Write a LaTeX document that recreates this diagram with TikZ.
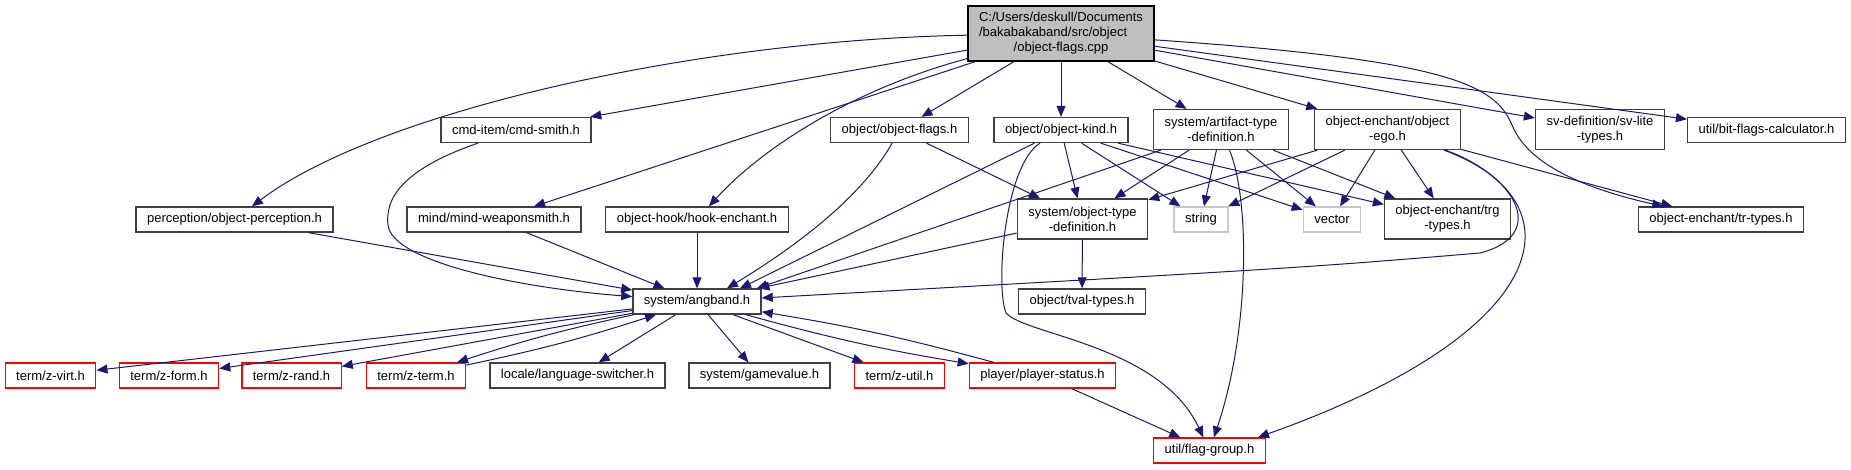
\documentclass[tikz,border=0pt]{standalone}
\usepackage{fontspec}
\setmainfont{Liberation Sans}
\usepackage{tikz}
\usetikzlibrary{arrows.meta, calc}
\definecolor{edgeblue}{RGB}{25, 25, 112}
\definecolor{boxgrey}{HTML}{404040}
\definecolor{mainfill}{HTML}{BFBFBF}
\definecolor{sysgrey}{HTML}{C8C8C8}

\begin{document}
\begin{tikzpicture}[x=1pt, y=-1pt,
	hdr/.style={draw=boxgrey, line width=1.3pt, fill=white, inner xsep=11pt, inner ysep=2pt,
		minimum height=25pt, font=\fontsize{13}{15}\selectfont},
	twoline/.style={align=center, minimum height=40pt},
	cut/.style={hdr, draw=red},
	sys/.style={hdr, draw=sysgrey},
	dep/.style={draw=edgeblue, line width=1pt, -{Triangle[length=11pt, width=9pt]}}]
	\useasboundingbox (0,0) rectangle (1851,469);
	\node[hdr, fill=mainfill, draw=black, minimum height=55pt] (main) at (1061,33.5)
		{\begin{tabular}{@{}l@{}}C:/Users/deskull/Documents\\/bakabakaband/src/object\\\multicolumn{1}{@{}c@{}}{/object-flags.cpp}\end{tabular}};
	\node[hdr] (cmdsmith) at (516,130) {cmd-item/cmd-smith.h};
	\node[hdr] (objflags) at (899.5,130) {object/object-flags.h};
	\node[hdr] (objkind) at (1061,130) {object/object-kind.h};
	\node[hdr, twoline] (artifact) at (1221,129.5) {system/artifact-type\\-definition.h};
	\node[hdr, twoline] (objego) at (1387.5,129.5) {object-enchant/object\\-ego.h};
	\node[hdr, twoline] (svlite) at (1600,129.5) {sv-definition/sv-lite\\-types.h};
	\node[hdr] (bitflags) at (1766.5,130) {util/bit-flags-calculator.h};
	\node[hdr] (perception) at (234.5,219.5) {perception/object-perception.h};
	\node[hdr] (mindweapon) at (494,219.5) {mind/mind-weaponsmith.h};
	\node[hdr] (hookench) at (697,219.5) {object-hook/hook-enchant.h};
	\node[hdr, twoline] (objtypedef) at (1082.5,219) {system/object-type\\-definition.h};
	\node[sys] (strg) at (1201,219.5) {string};
	\node[sys] (vect) at (1332,219.5) {vector};
	\node[hdr, twoline] (trgtypes) at (1447.5,219) {object-enchant/trg\\-types.h};
	\node[hdr] (trtypes) at (1721,219.5) {object-enchant/tr-types.h};
	\node[hdr] (angband) at (697,301.5) {system/angband.h};
	\node[hdr] (tvaltypes) at (1082,301.5) {object/tval-types.h};
	\node[cut] (zvirt) at (50.5,375.5) {term/z-virt.h};
	\node[cut] (zform) at (169,375.5) {term/z-form.h};
	\node[cut] (zrand) at (291.5,375.5) {term/z-rand.h};
	\node[cut] (zterm) at (416,375.5) {term/z-term.h};
	\node[hdr] (langsw) at (577.5,375.5) {locale/language-switcher.h};
	\node[hdr] (gamevalue) at (759.5,375.5) {system/gamevalue.h};
	\node[cut] (zutil) at (899.5,375.5) {term/z-util.h};
	\node[cut] (plstatus) at (1042.5,375.5) {player/player-status.h};
	\node[cut] (flaggroup) at (1209.5,450.5) {util/flag-group.h};

	\draw[dep] (main) .. controls (700,40) and (380,110) .. (perception);
	\draw[dep] (main) -- (cmdsmith);
	\draw[dep] (main) -- (mindweapon);
	\draw[dep] (main) .. controls (850,90) and (760,150) .. (hookench);
	\draw[dep] (main) -- (objflags);
	\draw[dep] (main) -- (objkind);
	\draw[dep] (main) -- (artifact);
	\draw[dep] (main) -- (objego);
	\draw[dep] (main) -- (svlite);
	\draw[dep] (main) -- (bitflags);
	\draw[dep] (main) .. controls (1450,60) and (1495,85) .. (1512,125)
		.. controls (1530,170) and (1600,192) .. (trtypes);

	\draw[dep] (cmdsmith) .. controls (400,170) and (385,200) .. (388,225)
		.. controls (392,262) and (520,288) .. (angband);
	\draw[dep] (perception) -- (angband);
	\draw[dep] (mindweapon) -- (angband);
	\draw[dep] (hookench) -- (angband);
	\draw[dep] (objflags) .. controls (860,200) and (790,250) .. ($(angband.north)+(30,0)$);
	\draw[dep] (objflags) -- (objtypedef);

	\draw[dep] (objkind) -- ($(angband.north)+(43,0)$);
	\draw[dep] (objkind) -- (objtypedef);
	\draw[dep] (objkind) -- (strg);
	\draw[dep] (objkind) -- (vect);
	\draw[dep] (objkind) -- (trgtypes);
	\draw[dep] (objkind) .. controls (1005,165) and (995,285) .. (1006,313)
		.. controls (1025,335) and (1160,345) .. (flaggroup);

	\draw[dep] (artifact) -- ($(angband.north east)+(-5,0)$);
	\draw[dep] (artifact) -- (objtypedef);
	\draw[dep] (artifact) -- (strg);
	\draw[dep] (artifact) -- (vect);
	\draw[dep] (artifact) -- (trgtypes);
	\draw[dep] (artifact) .. controls (1250,200) and (1250,330) .. (flaggroup);

	\draw[dep] (objego) -- (objtypedef);
	\draw[dep] (objego) -- (strg);
	\draw[dep] (objego) -- (vect);
	\draw[dep] (objego) -- (trgtypes);
	\draw[dep] (objego) -- (trtypes);
	\draw[dep] (objego) .. controls (1515,175) and (1550,235) .. (1480,253)
		.. controls (1300,268) .. (angband);
	\draw[dep] (objego) .. controls (1580,200) and (1560,330) .. ($(flaggroup.north east)+(-8,0)$);

	\draw[dep] (objtypedef) -- (angband);
	\draw[dep] (objtypedef) -- (tvaltypes);

	\draw[dep] (angband) -- (zvirt);
	\draw[dep] (angband) -- (zform);
	\draw[dep] (angband) -- (zrand);
	\draw[dep] (angband) to[bend right=3] (zterm);
	\draw[dep] (zterm) to[bend right=3] (angband);
	\draw[dep] (angband) -- (langsw);
	\draw[dep] (angband) -- (gamevalue);
	\draw[dep] (angband) -- (zutil);
	\draw[dep] (angband) to[bend right=3] (plstatus);
	\draw[dep] (plstatus) to[bend right=3] (angband);
	\draw[dep] (plstatus) -- (flaggroup);
\end{tikzpicture}
\end{document}
